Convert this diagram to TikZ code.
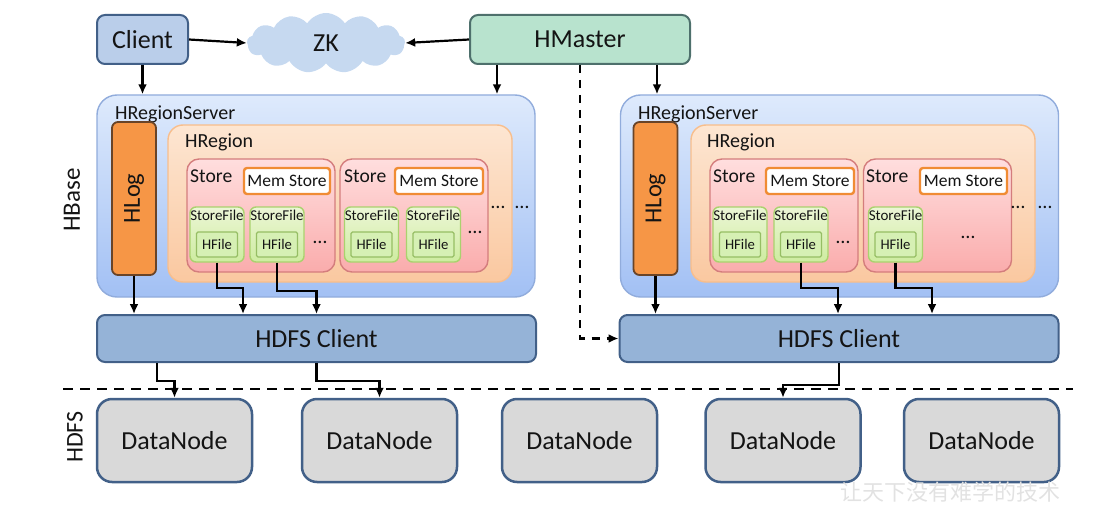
\documentclass[tikz,border=0pt]{standalone}
\usepackage{fontspec}
\setmainfont{Carlito}
\newfontfamily\cjkfont{Noto Sans CJK SC}
\usetikzlibrary{arrows.meta, positioning, shapes.symbols, calc}

\definecolor{txt}{RGB}{20,20,20}
\definecolor{frame}{RGB}{66,96,136}
\definecolor{clientfill}{RGB}{186,206,234}
\definecolor{zkfill}{RGB}{198,217,240}
\definecolor{masterfill}{RGB}{184,227,206}
\definecolor{masterframe}{RGB}{78,112,108}
\definecolor{rstop}{RGB}{222,234,252}
\definecolor{rsbot}{RGB}{162,192,244}
\definecolor{rsframe}{RGB}{145,172,220}
\definecolor{logfill}{RGB}{246,150,70}
\definecolor{logframe}{RGB}{105,68,40}
\definecolor{regtop}{RGB}{253,230,210}
\definecolor{regbot}{RGB}{250,200,160}
\definecolor{regframe}{RGB}{248,190,140}
\definecolor{sttop}{RGB}{255,222,222}
\definecolor{stbot}{RGB}{250,172,172}
\definecolor{stframe}{RGB}{212,125,125}
\definecolor{memframe}{RGB}{240,140,52}
\definecolor{sftop}{RGB}{236,246,214}
\definecolor{sfbot}{RGB}{206,236,160}
\definecolor{sfframe}{RGB}{170,210,110}
\definecolor{hffill}{RGB}{214,240,180}
\definecolor{hfframe}{RGB}{150,190,100}
\definecolor{hdfsfill}{RGB}{149,179,215}
\definecolor{dnfill}{RGB}{217,217,217}
\definecolor{wmgray}{RGB}{226,226,226}

\newcommand{\pxfont}[1]{\fontsize{#1}{#1}\selectfont}

\begin{document}
\begin{tikzpicture}[x=1pt, y=-1pt,
    every node/.style={text=txt, inner sep=0pt},
    arr/.style={-{Latex[length=10pt,width=9pt]}, line width=2.2pt, black},
    topbox/.style={draw=frame, line width=2pt, rounded corners=8pt, fill=clientfill, font=\pxfont{26}},
    serverbox/.style={draw=rsframe, line width=1.4pt, rounded corners=20pt, top color=rstop, bottom color=rsbot, minimum width=438pt, minimum height=202pt},
    logbox/.style={draw=logframe, line width=1.8pt, rounded corners=6pt, fill=logfill, minimum width=44pt, minimum height=153pt},
    regionbox/.style={draw=regframe, line width=1.4pt, rounded corners=15pt, top color=regtop, bottom color=regbot, minimum width=344pt, minimum height=157pt},
    storebox/.style={draw=stframe, line width=1.4pt, rounded corners=12pt, top color=sttop, bottom color=stbot, minimum width=148pt, minimum height=113pt},
    membox/.style={draw=memframe, line width=2.4pt, rounded corners=3pt, fill=white, minimum height=26pt, font=\pxfont{17.5}},
    sfbox/.style={draw=sfframe, line width=1.4pt, rounded corners=6pt, top color=sftop, bottom color=sfbot, minimum width=54pt, minimum height=55pt},
    hfbox/.style={draw=hfframe, line width=1.2pt, rounded corners=1.5pt, fill=hffill, minimum width=41pt, minimum height=25pt, font=\pxfont{14.7}},
    hdfsbox/.style={draw=frame, line width=2pt, rounded corners=8pt, fill=hdfsfill, minimum width=439pt, minimum height=47pt, font=\pxfont{26}},
    dnbox/.style={draw=frame, line width=2.5pt, rounded corners=15pt, fill=dnfill, minimum width=155pt, minimum height=83pt, font=\pxfont{26}},
    dots/.style={font=\pxfont{20}}
]
    \useasboundingbox (0,0) rectangle (1107,508);

    % Top row
    \node[topbox, minimum width=91pt, minimum height=49pt] (client) at (142.5,39.5) {Client};
    \node[cloud, cloud puffs=13, cloud puff arc=115, aspect=2.7, fill=zkfill,
          minimum width=158pt, minimum height=60pt, font=\pxfont{26}] (zk) at (326,43) {ZK};
    \node[topbox, fill=masterfill, draw=masterframe, minimum width=220pt, minimum height=49pt] (hmaster) at (580,39.5) {HMaster};

    % Region servers
    \node[serverbox] (rs1) at (316,196) {};
    \node[serverbox] (rs2) at (839.5,196) {};
    \node[anchor=base west, font=\pxfont{20}] (rs1lbl) at (115,119) {HRegionServer};
    \node[anchor=base west, font=\pxfont{20}] (rs2lbl) at (638,119) {HRegionServer};

    \node[logbox] (hlog1) at (134,198.5) {};
    \node[logbox] (hlog2) at (655.5,198.5) {};
    \node[rotate=90, font=\pxfont{24.5}] (hlog1t) at (hlog1) {HLog};
    \node[rotate=90, font=\pxfont{24.5}] (hlog2t) at (hlog2) {HLog};

    \node[regionbox] (hr1) at (340,203.5) {};
    \node[regionbox] (hr2) at (863,203.5) {};
    \node[anchor=base west, font=\pxfont{20}] (hr1lbl) at (185,147) {HRegion};
    \node[anchor=base west, font=\pxfont{20}] (hr2lbl) at (707,147) {HRegion};

    % Stores
    \foreach \n/\x/\l in {st1/261/190, st2/414/344, st3/784/713, st4/937.5/866} {
        \node[storebox] (\n) at (\x,215.5) {};
        \node[anchor=base west, font=\pxfont{19.6}] (\n t) at (\l,182) {Store};
    }
    \foreach \n/\x/\w in {ms1/287/86, ms2/439/88, ms3/810/88, ms4/963.5/87} {
        \node[membox, minimum width=\w pt] (\n) at (\x,181) {Mem Store};
    }

    % StoreFiles with HFiles
    \foreach \n/\x in {sf1/217, sf2/277, sf3/371.5, sf4/433.5, sf5/740, sf6/801, sf7/895.5} {
        \node[sfbox] (\n) at (\x,234.5) {};
        \node[anchor=north, font=\pxfont{15}] (\n t) at ([yshift=-4pt]\n.north) {StoreFile};
        \node[hfbox] (hf\n) at (\x,244.5) {HFile};
    }

    % Dots
    \foreach \n/\x/\y in {d1/320/242, d2/475/232, d3/498/207, d4/522/207,
                          d5/843/242, d6/968/237, d7/1018/207, d8/1045/207} {
        \node[dots] (\n) at (\x,\y) {\ldots};
    }

    % HDFS clients
    \node[hdfsbox] (hdfs1) at (316.5,338.5) {HDFS Client};
    \node[hdfsbox] (hdfs2) at (839,338.5) {HDFS Client};

    % DataNodes
    \foreach \i/\x in {1/174.5, 2/379.5, 3/579.5, 4/783, 5/981.5} {
        \node[dnbox] (dn\i) at (\x,440.5) {DataNode};
    }

    % Side labels
    \node[rotate=90, font=\pxfont{25}] (hbase) at (72,200) {HBase};
    \node[rotate=90, font=\pxfont{24}] (hdfs) at (75,437) {HDFS};

    % Separator
    \draw[line width=2.5pt, dash pattern=on 10pt off 7pt] (63,389) -- (1073,389);

    % Arrows top
    \draw[arr] (client.east) -- (zk.west);
    \draw[arr] (hmaster.west) -- (zk.east);
    \draw[arr] (client.south) -- (client.south |- rs1.north);
    \coordinate (hm1) at ([xshift=-83pt]hmaster.south);
    \coordinate (hm2) at ([xshift=77pt]hmaster.south);
    \draw[arr] (hm1) -- (hm1 |- rs1.north);
    \draw[arr] (hm2) -- (hm2 |- rs2.north);
    \draw[arr, dash pattern=on 8pt off 7pt] (hmaster.south) |- (hdfs2.west);

    % Arrows into HDFS clients
    \draw[arr] (hlog1.south) -- (hlog1.south |- hdfs1.north);
    \draw[arr] (hlog2.south) -- (hlog2.south |- hdfs2.north);
    \draw[arr] (sf1.south) -- ++(0,25) -| ([xshift=-73.5pt]hdfs1.north);
    \draw[arr] (sf2.south) -- ++(0,28) -| (hdfs1.north);
    \draw[arr] (sf6.south) -- ++(0,25) -| ([xshift=-1pt]hdfs2.north);
    \draw[arr] (sf7.south) -- ++(0,25) -| ([xshift=93pt]hdfs2.north);

    % Arrows to DataNodes
    \draw[arr] ([xshift=-159.5pt]hdfs1.south) -- ++(0,18) -| (dn1.north);
    \draw[arr] (hdfs1.south) -- ++(0,18) -| (dn2.north);
    \draw[arr] (hdfs2.south) -- ++(0,22) -| (dn4.north);

    % Watermark
    \node[text=wmgray, font=\cjkfont\pxfont{22}] (wm) at (950,492) {让天下没有难学的技术};
\end{tikzpicture}
\end{document}
